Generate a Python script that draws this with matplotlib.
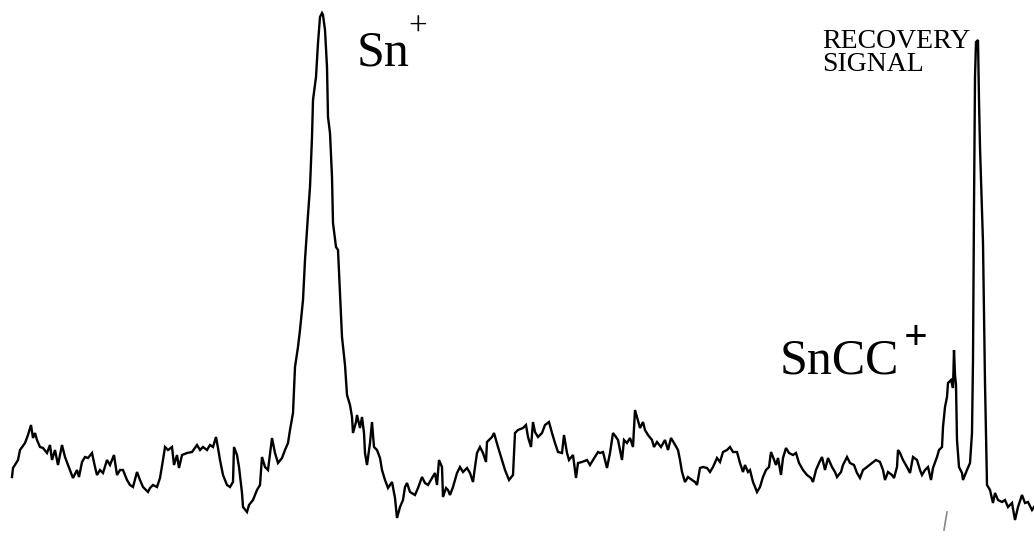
import matplotlib
matplotlib.use("Agg")
import matplotlib.pyplot as plt

# channel (flight time, arbitrary) and detector signal (arbitrary units)
channel = [
    12, 13, 18, 20, 25, 28, 31, 33, 35, 37, 40, 43, 47, 50, 52, 55, 58, 62, 65, 68,
    73, 77, 79, 82, 85, 88, 92, 95, 97, 100, 103, 107, 110, 114, 117, 120, 123, 127, 130, 133,
    137, 140, 143, 148,
    150, 153, 157, 160, 163, 165, 168, 172, 174, 177, 179, 182, 187, 192, 197, 200, 203, 207, 210, 213,
    216, 218, 220, 223, 227, 230, 233, 234, 237, 239, 242, 243, 247, 249, 253, 257, 260, 262, 265, 268,
    272, 275, 278, 282, 285, 288, 290, 293,
    295, 298, 300, 303, 305, 308, 310, 312, 313, 316, 318, 320, 322, 323, 325, 327, 328, 330, 332, 333,
    336, 338, 340, 342, 345, 347,
    350, 352, 353, 356, 357, 360, 362, 364, 365, 367, 370, 372, 374, 377, 380, 382, 385, 388, 392, 395,
    397, 400, 403, 405, 407, 410, 415, 418, 422, 425, 428, 432, 435, 437, 439, 442, 443, 446, 448,
    450, 453, 457, 460, 463, 467, 470, 473, 475, 477, 480, 483, 486, 487, 492, 494, 498, 502, 505, 509,
    513, 515, 518, 523, 526, 528, 531, 533, 535, 538, 542, 545, 549, 552, 555, 558, 562, 564, 567, 569,
    573, 576, 578, 582, 587, 590, 593, 598,
    600, 603, 607, 610, 613, 616, 618, 622, 624, 627, 630, 633, 635, 637, 640, 643, 645, 648, 652, 654,
    657, 661, 665, 668, 671, 674, 678, 680, 682, 685, 688, 692, 695, 697, 700, 703, 707, 710, 713, 717,
    720, 723, 727, 730, 733, 737, 740, 743, 745, 748,
    750, 753, 757, 760, 763, 766, 769, 771, 773, 776, 778, 781, 783, 786, 789, 793, 796, 799, 803, 807,
    811, 813, 816, 819, 822, 825, 828, 832, 835, 837, 841, 843, 847, 850, 854, 857, 860, 863, 867, 872,
    876, 880, 883, 885, 888, 892, 894, 897, 898,
    900, 903, 907, 910, 913, 917, 920, 922, 925, 928, 931, 933, 937, 939, 942, 943, 945, 947, 948, 951,
    953, 954, 955, 956, 957, 959, 962, 963, 967, 970, 972, 973, 974, 975, 976, 978, 979, 980, 983, 985,
    987, 990, 993, 995, 998, 1002, 1005, 1008, 1012, 1015, 1018, 1022, 1025, 1028, 1032, 1034,
]

signal = [
    65, 74, 82, 92, 99, 107, 117, 104, 109, 102, 95, 94, 89, 97, 82, 92, 77, 97, 85, 77,
    64, 72, 65, 80, 85, 84, 89, 75, 67, 72, 69, 82, 77, 87, 67, 72, 72, 62, 57, 55,
    70, 62, 55, 50,
    54, 57, 55, 64, 82, 95, 92, 95, 77, 87, 74, 87, 89, 90, 97, 92, 95, 92, 97, 95,
    105, 94, 82, 67, 57, 55, 60, 95, 87, 75, 49, 35, 30, 37, 42, 52, 57, 85, 75, 72,
    104, 89, 79, 84, 92, 99, 112, 129,
    175, 195, 212, 242, 282, 327, 355, 405, 442, 465, 499, 525, 529, 527, 512, 475, 425, 409, 365, 319,
    295, 292, 249, 205, 177, 147,
    137, 125, 109, 120, 127, 114, 125, 109, 89, 77, 99, 120, 95, 92, 84, 72, 62, 54, 60, 44,
    24, 35, 42, 55, 59, 50, 47, 54, 65, 59, 57, 64, 69, 57, 82, 75, 45, 54, 52,
    47, 55, 69, 75, 70, 74, 69, 60, 75, 89, 95, 89, 80, 100, 105, 109, 95, 82, 72, 62,
    67, 109, 112, 114, 117, 105, 95, 120, 110, 105, 109, 117, 120, 109, 99, 90, 89, 107, 89, 82,
    87, 64, 79, 80, 82, 77, 82, 90,
    89, 90, 74, 89, 109, 105, 102, 82, 102, 99, 104, 95, 132, 125, 114, 120, 112, 107, 102, 95,
    100, 95, 102, 92, 104, 99, 92, 82, 70, 60, 65, 62, 60, 57, 74, 75, 74, 70, 75, 84,
    80, 90, 92, 95, 90, 90, 79, 70, 77, 70,
    72, 60, 50, 55, 65, 72, 75, 90, 85, 77, 84, 67, 84, 94, 89, 87, 89, 79, 72, 67,
    64, 60, 72, 79, 85, 72, 84, 75, 70, 65, 70, 77, 85, 79, 77, 69, 64, 72, 75, 79,
    82, 80, 72, 62, 70, 67, 64, 75, 92,
    89, 82, 75, 69, 85, 82, 72, 67, 72, 75, 62, 74, 85, 92, 95, 115, 135, 145, 159, 162,
    154, 192, 167, 157, 102, 75, 69, 62, 72, 79, 109, 182, 335, 465, 500, 502, 442, 395, 299, 159,
    57, 52, 39, 49, 42, 40, 42, 35, 39, 22, 35, 47, 39, 40, 32, 35,
]

fig = plt.figure(figsize=(10.34, 5.42), dpi=100)
ax = fig.add_axes([0, 0, 1, 1])

ax.plot(channel, signal, color="black", lw=1.7, solid_joinstyle="miter")

# small stray tick under the SnCC peak
ax.plot([944, 947], [12, 30], color="#888888", lw=1.2)

serif = "Liberation Serif"
ax.text(357, 477, "Sn", family=serif, fontsize=36, va="baseline", ha="left")
ax.text(418, 514, "+", family=serif, fontsize=24, va="center", ha="center")
ax.text(780, 169, "SnCC", family=serif, fontsize=36, va="baseline", ha="left")
ax.text(916, 203, "+", family=serif, fontsize=30, fontweight="bold", va="center", ha="center")
ax.text(822, 494, "RECOVERY", family=serif, fontsize=20, va="baseline", ha="left")
ax.text(822, 471, "SIGNAL", family=serif, fontsize=20, va="baseline", ha="left")

ax.set_xlim(0, 1034)
ax.set_ylim(0, 542)
ax.set_axis_off()

fig.savefig("out.png", dpi=100, facecolor="white")
